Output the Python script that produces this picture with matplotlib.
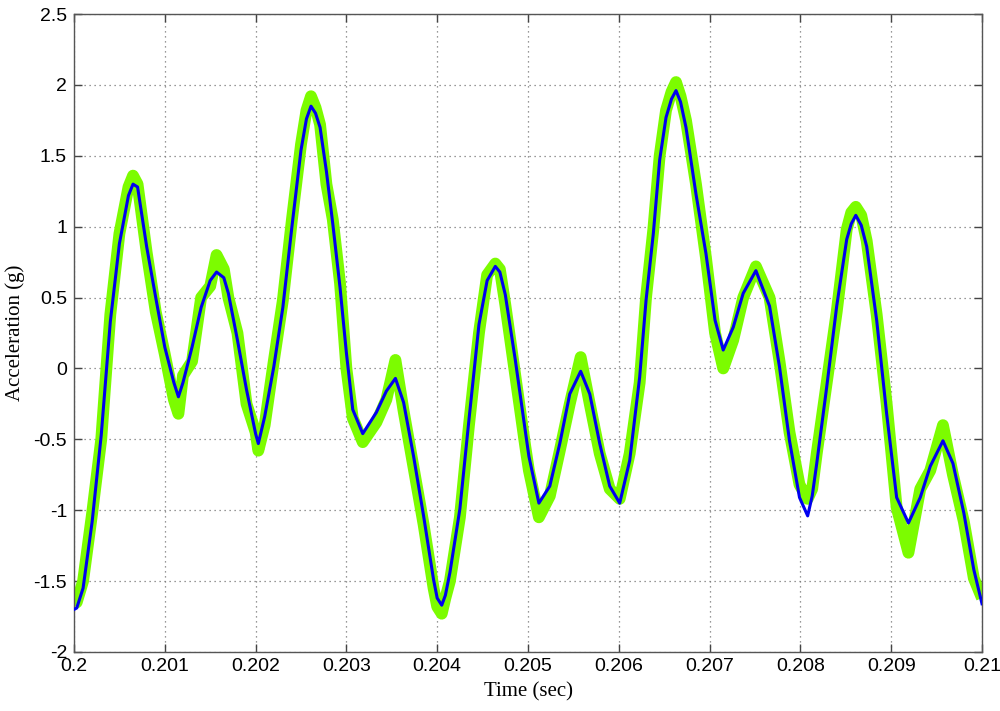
import matplotlib
matplotlib.use("Agg")
import matplotlib.pyplot as plt

# time (s) and accelerations (g)
t = [0.20000, 0.20003, 0.20010, 0.20020, 0.20030, 0.20040, 0.20050, 0.20060, 0.20065, 0.20070,
     0.20080, 0.20090, 0.20100, 0.20110, 0.20115, 0.20120, 0.20130, 0.20140, 0.20150, 0.20157,
     0.20165, 0.20170, 0.20180, 0.20190, 0.20200, 0.20203, 0.20210, 0.20220, 0.20230, 0.20240,
     0.20250, 0.20256, 0.20261, 0.20266, 0.20271, 0.20278, 0.20285, 0.20293, 0.20300, 0.20307,
     0.20318, 0.20333, 0.20344, 0.20354, 0.20363, 0.20374, 0.20385, 0.20396, 0.20400, 0.20405,
     0.20409, 0.20414, 0.20425, 0.20435, 0.20446, 0.20455, 0.20464, 0.20469, 0.20475, 0.20486,
     0.20497, 0.20501, 0.20512, 0.20524, 0.20535, 0.20546, 0.20558, 0.20568, 0.20579, 0.20590,
     0.20601, 0.20612, 0.20623, 0.20630, 0.20638, 0.20645, 0.20652, 0.20658, 0.20663, 0.20668,
     0.20674, 0.20685, 0.20696, 0.20706, 0.20715, 0.20726, 0.20737, 0.20751, 0.20766, 0.20777,
     0.20788, 0.20799, 0.20808, 0.20813, 0.20818, 0.20829, 0.20840, 0.20851, 0.20856, 0.20861,
     0.20867, 0.20873, 0.20884, 0.20895, 0.20906, 0.20919, 0.20932, 0.20943, 0.20957, 0.20968,
     0.20980, 0.20991, 0.21000]

blue = [-1.70, -1.69, -1.55, -1.08, -0.47, 0.33, 0.88, 1.22, 1.30, 1.28,
        0.86, 0.50, 0.15, -0.10, -0.20, -0.10, 0.15, 0.43, 0.62, 0.68,
        0.64, 0.53, 0.20, -0.15, -0.46, -0.53, -0.34, 0.01, 0.43, 1.00,
        1.54, 1.76, 1.85, 1.80, 1.70, 1.39, 1.02, 0.57, 0.11, -0.29,
        -0.46, -0.31, -0.16, -0.07, -0.24, -0.62, -1.04, -1.49, -1.62, -1.67,
        -1.60, -1.44, -0.99, -0.36, 0.31, 0.62, 0.72, 0.68, 0.52, 0.06,
        -0.44, -0.62, -0.95, -0.83, -0.53, -0.18, -0.02, -0.18, -0.53, -0.83,
        -0.95, -0.65, -0.06, 0.48, 0.95, 1.47, 1.77, 1.90, 1.96, 1.88,
        1.70, 1.23, 0.81, 0.34, 0.13, 0.29, 0.53, 0.69, 0.44, 0.01,
        -0.51, -0.91, -1.04, -0.90, -0.67, -0.13, 0.44, 0.91, 1.02, 1.08,
        1.01, 0.86, 0.34, -0.32, -0.91, -1.09, -0.91, -0.69, -0.51, -0.67,
        -1.02, -1.42, -1.66]

green = [-1.66, -1.65, -1.50, -1.02, -0.50, 0.38, 0.95, 1.28, 1.36, 1.30,
         0.82, 0.40, 0.10, -0.22, -0.32, -0.05, 0.05, 0.50, 0.58, 0.80,
         0.70, 0.50, 0.25, -0.25, -0.45, -0.58, -0.40, 0.05, 0.48, 1.05,
         1.58, 1.82, 1.92, 1.84, 1.72, 1.30, 1.05, 0.60, 0.00, -0.35,
         -0.52, -0.38, -0.22, 0.06, -0.30, -0.70, -1.10, -1.55, -1.68, -1.73,
         -1.62, -1.50, -1.05, -0.40, 0.25, 0.66, 0.74, 0.70, 0.45, -0.05,
         -0.55, -0.72, -1.05, -0.90, -0.58, -0.25, 0.08, -0.25, -0.60, -0.85,
         -0.92, -0.60, -0.10, 0.50, 0.98, 1.50, 1.82, 1.95, 2.02, 1.92,
         1.75, 1.30, 0.78, 0.25, 0.00, 0.20, 0.50, 0.72, 0.50, 0.05,
         -0.45, -0.82, -0.92, -0.85, -0.60, -0.10, 0.40, 0.98, 1.10, 1.14,
         1.08, 0.90, 0.38, -0.25, -0.98, -1.30, -0.85, -0.72, -0.40, -0.75,
         -1.08, -1.48, -1.62]

xticks = [0.200, 0.201, 0.202, 0.203, 0.204, 0.205, 0.206, 0.207, 0.208, 0.209, 0.210]
xtick_labels = ["0.2", "0.201", "0.202", "0.203", "0.204", "0.205", "0.206", "0.207", "0.208", "0.209", "0.21"]
yticks = [-2, -1.5, -1, -0.5, 0, 0.5, 1, 1.5, 2, 2.5]
ytick_labels = ["-2", "-1.5", "-1", "-0.5", "0", "0.5", "1", "1.5", "2", "2.5"]

fig = plt.figure(figsize=(10, 7.11), dpi=100)
ax = fig.add_axes([0.074, 0.083, 0.908, 0.8973])

ax.plot(t, green, color="#7cfc00", lw=8.5, solid_joinstyle="round", solid_capstyle="butt", zorder=2)
ax.plot(t, blue, color="#0000f0", lw=2.2, zorder=3)

ax.set_xlim(0.2, 0.21)
ax.set_ylim(-2, 2.5)
ax.set_xticks(xticks)
ax.set_xticklabels(xtick_labels, family="Liberation Sans", fontsize=14)
ax.set_yticks(yticks)
ax.set_yticklabels(ytick_labels, family="Liberation Sans", fontsize=14)
ax.tick_params(axis="x", pad=4.5)
ax.tick_params(axis="y", pad=5)
ax.tick_params(direction="in", length=6, width=1, top=True, right=True, color="#444444")
ax.grid(True, linestyle=(0, (1, 3)), color="#777777", linewidth=0.9)
for s in ax.spines.values():
    s.set_color("#555555")
    s.set_linewidth(1)

ax.set_xlabel("Time (sec)", family="Liberation Serif", fontsize=15, labelpad=5)
ax.set_ylabel("Acceleration (g)", family="Liberation Serif", fontsize=15, labelpad=6)

fig.savefig("out.png", dpi=100)
